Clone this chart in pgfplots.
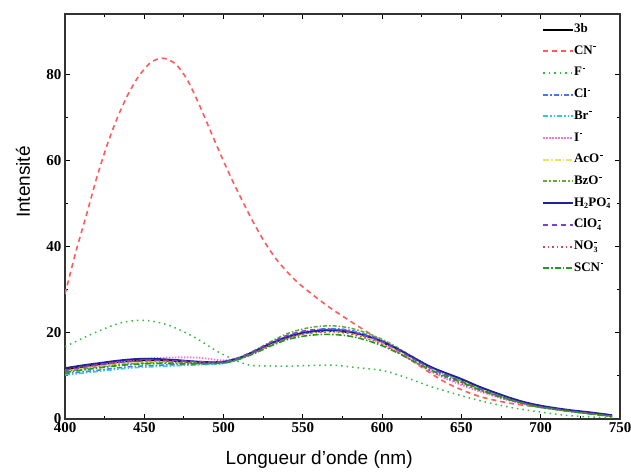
\documentclass[border=0pt]{standalone}
\usepackage{pgfplots}
\pgfplotsset{compat=1.18}
\usepackage{fontspec}
\setmainfont{Liberation Serif}
\setsansfont{Liberation Sans}
\definecolor{cCN}{HTML}{FF5A5A}
\definecolor{cF}{HTML}{33BB44}
\definecolor{cCl}{HTML}{4477EE}
\definecolor{cBr}{HTML}{33CCCC}
\definecolor{cI}{HTML}{EE77DD}
\definecolor{cAcO}{HTML}{E8E855}
\definecolor{cBzO}{HTML}{66AA33}
\definecolor{cH}{HTML}{222299}
\definecolor{cClO}{HTML}{7744CC}
\definecolor{cNO}{HTML}{CC4466}
\definecolor{cSCN}{HTML}{229922}
\newcommand{\sm}{\hspace{0.6pt}\rule[7pt]{2.8pt}{0.9pt}}
\newcommand{\sub}[1]{\makebox[0pt][l]{\raisebox{-2.5pt}{\fontsize{8}{8}\selectfont #1}}}
\begin{document}
\begin{tikzpicture}
\useasboundingbox (-65pt,-52pt) rectangle (566pt,419pt);
\begin{axis}[
  at={(0,0)}, anchor=south west,
  scale only axis, width=555pt, height=405pt,
  xmin=400, xmax=750, ymin=0, ymax=94,
  xtick={400,450,...,750}, ytick={0,20,...,80},
  minor x tick num=1, minor y tick num=1,
  major tick length=5pt, minor tick length=3pt,
  axis line style={line width=1.1pt, color=black!80},
  every tick/.style={black, line width=0.9pt},
  /pgf/number format/assume math mode=true,
  tick label style={font=\fontsize{15}{15}\selectfont\bfseries},
  xlabel={Longueur d’onde (nm)},
  ylabel={Intensité},
  label style={font=\sffamily\fontsize{19}{19}\selectfont},
  xlabel style={at={(axis description cs:0.458,-0.1012)}, anchor=center},
  ylabel style={at={(axis description cs:-0.0757,0.585)}, anchor=center},
  legend cell align=left,
  legend style={at={(axis description cs:0.8595,0.9765)}, anchor=north west,
    draw=none, fill=none, inner sep=0pt, outer sep=0pt, row sep=9.7pt,
    font=\fontsize{13}{13}\selectfont\bfseries,
    nodes={inner sep=0pt, text height=9pt, text depth=3pt},
    /tikz/every even column/.append style={column sep=1.5pt}},
  legend image code/.code={\draw[#1,line width=2pt] (0pt,0pt) -- (30pt,0pt);},
  every axis plot/.append style={smooth, tension=0.5},
]
% 3b
\addplot[black, line width=1.6pt] coordinates {(400,11.5)(410,12.0)(420,12.5)(430,13.0)(440,13.4)(450,13.6)(460,13.6)(470,13.4)(480,13.1)(490,12.9)(500,13.1)(510,14.0)(520,15.6)(530,17.4)(540,18.8)(550,19.8)(560,20.3)(570,20.4)(580,20.0)(590,19.1)(600,17.8)(610,16.0)(620,14.0)(630,12.0)(640,10.5)(650,9.1)(660,7.5)(670,6.1)(680,4.8)(690,3.7)(700,2.9)(710,2.3)(720,1.8)(730,1.4)(745,0.7)};
\addlegendentry{3b}
% CN-
\addplot[cCN, line width=1.6pt, dash pattern=on 5pt off 4pt] coordinates {(400,29)(407,39)(414,48)(420,56)(426,63)(432,69)(439,74.8)(446,79.3)(453,82.4)(458,83.5)(463,83.7)(470,82.3)(477,78.8)(484,73.5)(491,67.5)(498,61.5)(505,55.8)(512,50.5)(519,45.5)(526,41.0)(533,37.2)(540,34.2)(547,31.6)(557,28.6)(568,25.6)(585,21.5)(600,18.0)(620,13.2)(640,8.5)(660,5.4)(680,3.7)(700,2.7)(720,1.8)(745,0.6)};
\addlegendentry{CN\sm}
% F-
\addplot[cF, line width=1.5pt, dash pattern=on 1.5pt off 4pt] coordinates {(400,16.8)(418,19.9)(435,22.3)(450,22.9)(465,21.8)(481,19.1)(498,15.3)(515,12.6)(530,12.3)(544,12.3)(568,12.5)(582,12.0)(601,11.2)(616,9.5)(631,7.5)(652,5.2)(668,3.7)(684,2.5)(700,1.6)(715,0.9)(730,0.5)(745,0.3)};
\addlegendentry{F\sm}
% Cl-
\addplot[cCl, line width=1.5pt, dash pattern=on 5pt off 2pt on 1.5pt off 2pt] coordinates {(400,10.5)(420,11.3)(440,12.1)(460,12.5)(480,12.7)(500,13.0)(510,14.0)(520,15.7)(530,17.6)(540,19.2)(550,20.2)(560,20.8)(570,21.0)(580,20.6)(590,19.6)(600,18.2)(610,16.3)(620,14.2)(630,12.2)(640,10.5)(650,9.0)(660,7.4)(670,6.0)(680,4.7)(690,3.7)(700,2.9)(720,1.8)(745,0.7)};
\addlegendentry{Cl\sm}
% Br-
\addplot[cBr, line width=1.5pt, dash pattern=on 5pt off 2pt on 1.5pt off 2pt on 1.5pt off 2pt] coordinates {(400,10.2)(420,11.0)(440,11.8)(460,12.2)(480,12.5)(500,12.9)(510,13.9)(520,15.5)(530,17.4)(540,19.0)(550,20.0)(560,20.6)(570,20.8)(580,20.4)(590,19.4)(600,18.0)(610,16.2)(620,14.1)(630,12.1)(640,10.4)(650,8.9)(660,7.3)(670,5.9)(680,4.6)(690,3.6)(700,2.8)(720,1.7)(745,0.7)};
\addlegendentry{Br\sm}
% I-
\addplot[cI, line width=1.8pt, dash pattern=on 1.5pt off 1.5pt] coordinates {(400,11.0)(420,12.3)(440,13.6)(460,14.2)(480,14.3)(490,14.0)(500,13.6)(510,14.2)(520,15.4)(530,17.2)(540,18.8)(550,19.8)(560,20.4)(570,20.5)(580,20.0)(590,19.0)(600,17.5)(610,15.6)(620,13.4)(630,11.2)(640,9.4)(650,7.9)(660,6.6)(670,5.4)(680,4.3)(690,3.4)(700,2.7)(720,1.8)(745,0.8)};
\addlegendentry{I\sm}
% AcO-
\addplot[cAcO, line width=1.5pt, dash pattern=on 6pt off 2pt on 1.5pt off 2pt] coordinates {(400,11.2)(420,12.2)(440,12.9)(460,13.2)(480,13.1)(500,13.1)(510,14.0)(520,15.6)(530,17.4)(540,18.9)(550,19.8)(560,20.2)(570,20.3)(580,19.9)(590,19.0)(600,17.7)(610,15.9)(620,13.9)(630,11.9)(640,10.3)(650,8.9)(660,7.3)(670,5.9)(680,4.7)(690,3.7)(700,2.9)(720,1.8)(745,0.7)};
\addlegendentry{AcO\sm}
% BzO-
\addplot[cBzO, line width=1.5pt, dash pattern=on 4pt off 2pt on 1.5pt off 2pt] coordinates {(400,11.0)(420,12.0)(440,12.8)(460,13.1)(480,13.0)(500,13.2)(510,14.3)(520,16.0)(530,18.0)(540,19.8)(550,20.9)(560,21.5)(570,21.6)(580,21.1)(590,20.0)(600,18.5)(610,16.5)(620,14.3)(630,12.2)(640,10.4)(650,8.8)(660,7.2)(670,5.8)(680,4.6)(690,3.6)(700,2.8)(720,1.7)(745,0.6)};
\addlegendentry{BzO\sm}
% H2PO4-
\addplot[cH, line width=1.8pt] coordinates {(400,11.8)(410,12.4)(420,12.9)(430,13.4)(440,13.8)(450,14.0)(460,13.9)(470,13.7)(480,13.4)(490,13.2)(500,13.3)(510,14.2)(520,15.8)(530,17.6)(540,19.0)(550,20.0)(560,20.5)(570,20.6)(580,20.2)(590,19.3)(600,18.0)(610,16.2)(620,14.2)(630,12.2)(640,10.7)(650,9.3)(660,7.7)(670,6.3)(680,5.0)(690,3.9)(700,3.1)(710,2.5)(720,2.0)(730,1.6)(745,0.9)};
\addlegendentry{H\sub{2}\hspace{4.2pt}PO\sub{4}\sm}
% ClO4-
\addplot[cClO, line width=1.5pt, dash pattern=on 5pt off 4pt] coordinates {(400,11.3)(420,12.5)(440,13.3)(460,13.6)(480,13.4)(500,13.3)(510,14.3)(520,15.9)(530,17.8)(540,19.4)(550,20.4)(560,20.8)(570,20.8)(580,20.3)(590,19.3)(600,17.9)(610,16.0)(620,13.9)(630,11.9)(640,10.2)(650,8.7)(660,7.2)(670,5.8)(680,4.6)(690,3.6)(700,2.8)(720,1.8)(745,0.7)};
\addlegendentry{ClO\sub{4}\sm}
% NO3-
\addplot[cNO, line width=1.5pt, dash pattern=on 1.5pt off 3pt] coordinates {(400,11.4)(420,12.5)(440,13.3)(460,13.5)(480,13.2)(500,13.1)(510,14.0)(520,15.5)(530,17.3)(540,18.8)(550,19.7)(560,20.1)(570,20.2)(580,19.7)(590,18.7)(600,17.3)(610,15.4)(620,13.3)(630,11.3)(640,9.6)(650,8.2)(660,6.8)(670,5.5)(680,4.4)(690,3.5)(700,2.7)(720,1.7)(745,0.6)};
\addlegendentry{NO\sub{3}\sm}
% SCN-
\addplot[cSCN, line width=1.6pt, dash pattern=on 6pt off 2pt on 1.5pt off 2pt] coordinates {(400,10.8)(420,11.8)(440,12.6)(460,12.9)(480,12.8)(500,13.0)(510,13.9)(520,15.3)(530,17.0)(540,18.4)(550,19.2)(560,19.6)(570,19.6)(580,19.2)(590,18.3)(600,17.0)(610,15.3)(620,13.4)(630,11.5)(640,9.9)(650,8.5)(660,7.0)(670,5.7)(680,4.5)(690,3.5)(700,2.7)(720,1.7)(745,0.6)};
\addlegendentry{SCN\sm}
\end{axis}
\end{tikzpicture}
\end{document}
